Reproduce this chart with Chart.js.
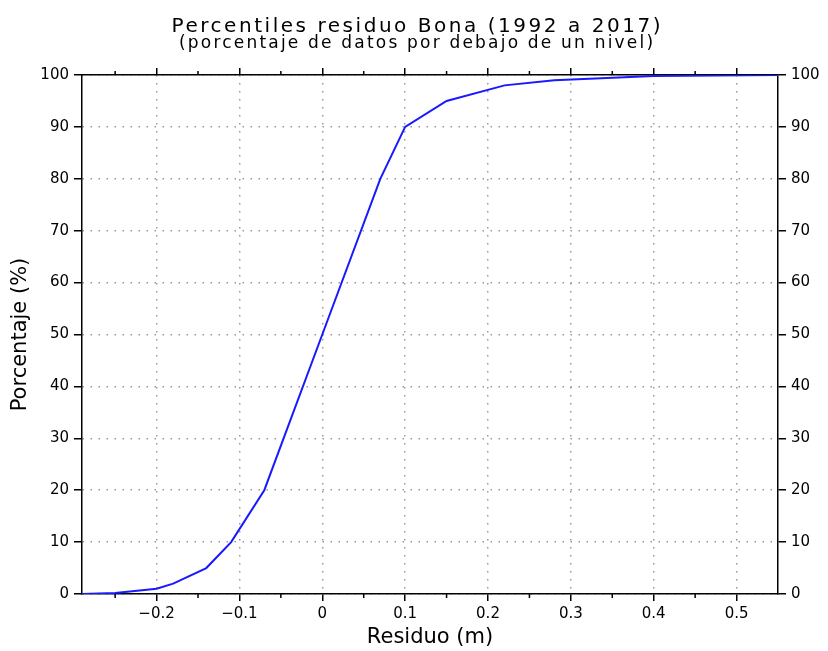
<!DOCTYPE html>
<html>
<head>
<meta charset="utf-8">
<script src="https://cdn.jsdelivr.net/npm/chart.js@4/dist/chart.umd.min.js"></script>
<style>
  html, body { margin: 0; background: #fff; }
  #wrap { width: 828px; height: 651px; }
</style>
</head>
<body>
<div id="wrap"><canvas id="grafico"></canvas></div>
<script>
// Datos
const residuo = [-0.29, -0.25, -0.2, -0.18, -0.14, -0.11, -0.07, 0, 0.07, 0.1, 0.15, 0.22, 0.28, 0.4, 0.55];
const porcentaje = [0, 0.2, 1, 2, 5, 10, 20, 50, 80, 90, 95, 98, 99, 99.8, 100];
const ticksX = [-0.2, -0.1, 0, 0.1, 0.2, 0.3, 0.4, 0.5];
const ticksXMenor = [-0.25, -0.15, -0.05, 0.05, 0.15, 0.25, 0.35, 0.45];
const ticksY = [0, 10, 20, 30, 40, 50, 60, 70, 80, 90, 100];

const titulo = "Percentiles residuo Bona (1992 a 2017)";
const subtitulo = "(porcentaje de datos por debajo de un nivel)";

const fuente = "DejaVu Sans";

// texto espaciado (la fuente original es mas ancha)
function textoEspaciado(ctx, texto, cx, y, size, ancho) {
  ctx.save();
  ctx.font = size + 'px "' + fuente + '"';
  const medido = ctx.measureText(texto).width;
  const esp = Math.max(0, (ancho - medido) / (texto.length - 1));
  if ("letterSpacing" in ctx) {
    ctx.letterSpacing = esp.toFixed(2) + "px";
  }
  ctx.fillStyle = "#000";
  ctx.textAlign = "left";
  ctx.textBaseline = "alphabetic";
  ctx.fillText(texto, cx - ancho / 2, y);
  ctx.restore();
}

const titulos = {
  id: "titulos",
  afterDraw(chart) {
    const cx = chart.width / 2 + 2;
    textoEspaciado(chart.ctx, titulo, cx, 32, 20, 489);
    textoEspaciado(chart.ctx, subtitulo, cx, 47.5, 17, 474);
  },
};

// marcas menores del eje x (abajo y arriba)
const marcasMenores = {
  id: "marcasMenores",
  afterDraw(chart) {
    const ctx = chart.ctx;
    const area = chart.chartArea;
    const x = chart.scales.x;
    ctx.save();
    ctx.strokeStyle = "#000";
    ctx.lineWidth = 1.5;
    ticksXMenor.forEach((v) => {
      const px = x.getPixelForValue(v);
      ctx.beginPath();
      ctx.moveTo(px, area.bottom);
      ctx.lineTo(px, area.bottom + 4);
      ctx.moveTo(px, area.top);
      ctx.lineTo(px, area.top - 4);
      ctx.stroke();
    });
    ctx.restore();
  },
};

function ejeX(posicion, conEtiquetas) {
  return {
    type: "linear",
    position: posicion,
    min: -0.29,
    max: 0.55,
    afterBuildTicks: (s) => {
      s.ticks = ticksX.map((v) => ({ value: v }));
    },
    ticks: {
      display: conEtiquetas,
      color: "#000",
      padding: 4,
      font: { family: fuente, size: 15 },
      callback: (v) => (v === 0 ? "0" : v.toFixed(1).replace("-", "\u2212")),
    },
    grid: {
      drawOnChartArea: conEtiquetas,
      color: "#9a9a9a",
      lineWidth: 1.5,
      tickColor: "#000",
      tickLength: 7,
      tickWidth: 1.5,
    },
    border: { color: "#000", width: 1.5, dash: [1.5, 6.5] },
  };
}

function ejeY(posicion, conRejilla) {
  return {
    type: "linear",
    position: posicion,
    min: 0,
    max: 100,
    afterBuildTicks: (s) => {
      s.ticks = ticksY.map((v) => ({ value: v }));
    },
    ticks: {
      color: "#000",
      padding: 5,
      font: { family: fuente, size: 15 },
    },
    grid: {
      drawOnChartArea: conRejilla,
      color: "#9a9a9a",
      lineWidth: 1.5,
      tickColor: "#000",
      tickLength: 8,
      tickWidth: 1.5,
    },
    border: { color: "#000", width: 1.5, dash: [1.5, 6.5] },
  };
}

const escalas = {
  x: ejeX("bottom", true),
  x2: ejeX("top", false),
  y: ejeY("left", true),
  y2: ejeY("right", false),
};
escalas.x.title = {
  display: true,
  text: "Residuo (m)",
  color: "#000",
  font: { family: fuente, size: 21 },
  padding: { top: 0, bottom: 1 },
};
escalas.y.title = {
  display: true,
  text: "Porcentaje (%)",
  color: "#000",
  font: { family: fuente, size: 21 },
  padding: { top: 0, bottom: 3 },
};
escalas.x.afterFit = (s) => { s.height = 57; };
escalas.x2.afterFit = (s) => { s.height = 18; };
escalas.y.afterFit = (s) => { s.width = 74; };
escalas.y2.afterFit = (s) => { s.width = 42; };

const canvas = document.getElementById("grafico").getContext("2d");
const grafico = new Chart(canvas, {
  type: "scatter",
  data: {
    datasets: [
      {
        label: "Percentiles",
        data: residuo.map((r, i) => ({ x: r, y: porcentaje[i] })),
        showLine: true,
        borderColor: "rgb(25, 25, 255)",
        backgroundColor: "rgb(25, 25, 255)",
        borderWidth: 2,
        pointRadius: 0,
        tension: 0,
        xAxisID: "x",
        yAxisID: "y",
      },
    ],
  },
  options: {
    responsive: true,
    maintainAspectRatio: false,
    animation: false,
    layout: {
      padding: { left: 8, right: 8, top: 57, bottom: 0 },
    },
    plugins: {
      legend: { display: false },
      tooltip: { enabled: false },
    },
    scales: escalas,
  },
  plugins: [marcasMenores, titulos],
});
</script>
</body>
</html>
